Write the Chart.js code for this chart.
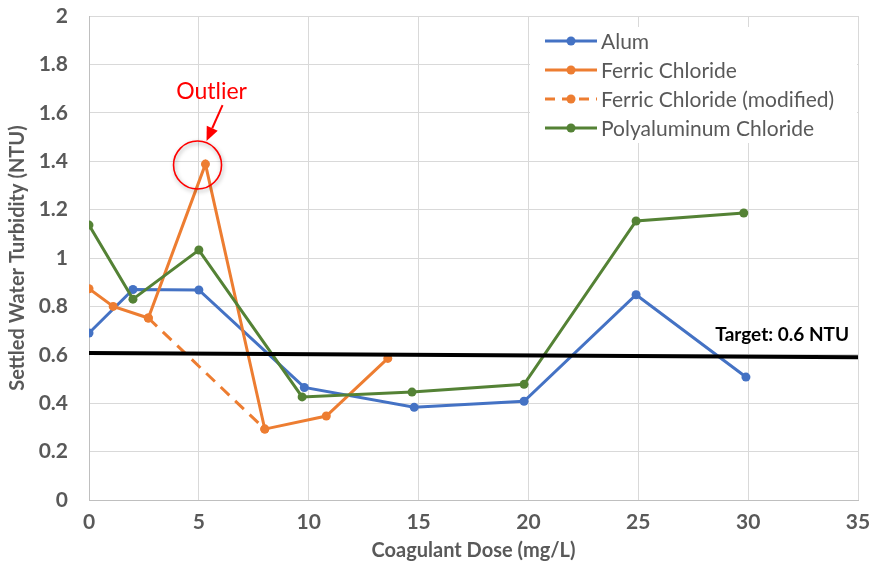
<!DOCTYPE html>
<html>
<head>
<meta charset="utf-8">
<script src="https://cdn.jsdelivr.net/npm/chart.js@4.4.1/dist/chart.umd.min.js"></script>
<style>
html,body{margin:0;padding:0;background:#fff;}
#wrap{width:871px;height:563px;position:relative;}
</style>
</head>
<body>
<div id="wrap"><canvas id="c" width="871" height="563"></canvas></div>
<script>
// ---- data ----
const alumDose = [0, 2, 5, 9.8, 14.8, 19.8, 24.9, 29.9];
const alumNTU  = [0.69, 0.87, 0.868, 0.465, 0.383, 0.408, 0.848, 0.508];
const ferricDose = [0, 1.1, 2.7, 5.3, 8.0, 10.8, 13.6];
const ferricNTU  = [0.873, 0.80, 0.752, 1.388, 0.293, 0.347, 0.585];
const ferricModDose = [2.7, 8.0];
const ferricModNTU  = [0.752, 0.293];
const paclDose = [0, 2, 5, 9.7, 14.7, 19.8, 24.9, 29.8];
const paclNTU  = [1.136, 0.83, 1.033, 0.426, 0.446, 0.478, 1.153, 1.186];
const targetDose = [0, 35];
const targetNTU  = [0.607, 0.59];
const seriesLabels = ['Alum', 'Ferric Chloride', 'Ferric Chloride (modified)', 'Polyaluminum Chloride'];
const xTickLabels = ['0','5','10','15','20','25','30','35'];
const yTickLabels = ['0','0.2','0.4','0.6','0.8','1','1.2','1.4','1.6','1.8','2'];
const targetText = 'Target: 0.6 NTU';
const outlierText = 'Outlier';
const outlierAt = {x: 4.94, y: 1.384};     // circle centre (data units)
const targetLabelAt = {x: 31.55, y: 0.682}; // label centre (data units)

const pts = (xs, ys) => xs.map((x, i) => ({x, y: ys[i]}));
const BLUE = '#4472C4', ORANGE = '#ED7D31', GREEN = '#548235';
const FONT = 'Lato, "Open Sans", sans-serif';

const annot = {
  id: 'annot',
  afterDatasetsDraw(chart) {
    const ctx = chart.ctx, xs = chart.scales.x, ys = chart.scales.y;
    ctx.save();
    // legend box
    ctx.fillStyle = '#fff';
    ctx.fillRect(530, 27, 327, 116);
    const entries = [
      {label: seriesLabels[0], color: BLUE, dash: []},
      {label: seriesLabels[1], color: ORANGE, dash: []},
      {label: seriesLabels[2], color: ORANGE, dash: [10, 7]},
      {label: seriesLabels[3], color: GREEN, dash: []},
    ];
    ctx.font = '21px ' + FONT;
    ctx.textBaseline = 'middle';
    ctx.textAlign = 'left';
    entries.forEach((e, i) => {
      const y = 41 + i * 29;
      ctx.strokeStyle = e.color; ctx.lineWidth = 3; ctx.setLineDash(e.dash);
      ctx.beginPath(); ctx.moveTo(545, y); ctx.lineTo(597, y); ctx.stroke();
      ctx.setLineDash([]);
      ctx.fillStyle = e.color;
      ctx.beginPath(); ctx.arc(571, y, 4.5, 0, Math.PI * 2); ctx.fill();
      ctx.fillStyle = '#595959';
      ctx.fillText(e.label, 601, y + 1);
    });
    // target label
    ctx.font = 'bold 19px ' + FONT;
    ctx.fillStyle = '#000';
    ctx.textAlign = 'center';
    ctx.fillText(targetText, xs.getPixelForValue(targetLabelAt.x), ys.getPixelForValue(targetLabelAt.y));
    // outlier circle
    const cx = xs.getPixelForValue(outlierAt.x), cy = ys.getPixelForValue(outlierAt.y);
    ctx.save();
    ctx.shadowColor = 'rgba(0,0,0,0.35)'; ctx.shadowBlur = 4; ctx.shadowOffsetX = 1; ctx.shadowOffsetY = 2;
    ctx.strokeStyle = '#FF0000'; ctx.lineWidth = 1.6;
    ctx.beginPath(); ctx.arc(cx, cy, 24, 0, Math.PI * 2); ctx.stroke();
    ctx.restore();
    // arrow
    const tipX = cx + 9, tipY = cy - 24, tailX = cx + 25, tailY = cy - 60;
    const ang = Math.atan2(tipY - tailY, tipX - tailX);
    const hl = 14, hw = 6;
    const bx = tipX - hl * Math.cos(ang), by = tipY - hl * Math.sin(ang);
    ctx.strokeStyle = '#FF0000'; ctx.fillStyle = '#FF0000'; ctx.lineWidth = 2;
    ctx.beginPath(); ctx.moveTo(tailX, tailY); ctx.lineTo(bx, by); ctx.stroke();
    ctx.beginPath();
    ctx.moveTo(tipX, tipY);
    ctx.lineTo(bx + hw * Math.sin(ang), by - hw * Math.cos(ang));
    ctx.lineTo(bx - hw * Math.sin(ang), by + hw * Math.cos(ang));
    ctx.closePath(); ctx.fill();
    // outlier text
    ctx.font = '23px ' + FONT;
    ctx.textAlign = 'center';
    ctx.fillText(outlierText, cx + 14, cy - 73);
    ctx.restore();
  }
};

const lineDs = (label, data, color, order, extra) => Object.assign({
  label, data, borderColor: color, backgroundColor: color, borderWidth: 3,
  pointRadius: 4.5, pointHoverRadius: 4.5, pointBackgroundColor: color, pointBorderWidth: 0,
  tension: 0, order
}, extra || {});

new Chart(document.getElementById('c'), {
  type: 'line',
  data: {
    datasets: [
      lineDs(seriesLabels[0], pts(alumDose, alumNTU), BLUE, 4),
      lineDs(seriesLabels[1], pts(ferricDose, ferricNTU), ORANGE, 3),
      lineDs(seriesLabels[2], pts(ferricModDose, ferricModNTU), ORANGE, 2, {borderDash: [12, 8]}),
      lineDs(seriesLabels[3], pts(paclDose, paclNTU), GREEN, 1),
      lineDs('Target', pts(targetDose, targetNTU), '#000', 0, {borderWidth: 4, pointRadius: 0})
    ]
  },
  options: {
    responsive: false,
    animation: false,
    events: [],
    layout: {padding: {top: 16, right: 13, left: 0, bottom: 0}},
    plugins: {legend: {display: false}, tooltip: {enabled: false}},
    scales: {
      x: {
        type: 'linear', min: 0, max: 35,
        ticks: {stepSize: 5, padding: 10, color: '#595959', font: {family: FONT, size: 21, weight: 'bold'},
          callback: (v, i) => xTickLabels[i]},
        grid: {color: '#d9d9d9', lineWidth: 1, drawTicks: false},
        border: {color: '#bfbfbf', width: 1},
        title: {display: true, text: 'Coagulant Dose (mg/L)', color: '#595959',
          font: {family: FONT, size: 20, weight: 'bold'}, padding: {top: 3, bottom: 0}},
        afterFit(s) { s.height = 63; s.paddingLeft = 0; s.paddingRight = 0; }
      },
      y: {
        min: 0, max: 2,
        ticks: {stepSize: 0.2, padding: 21, color: '#595959', font: {family: FONT, size: 21, weight: 'bold'},
          callback: (v, i) => yTickLabels[i]},
        grid: {color: '#d9d9d9', lineWidth: 1, drawTicks: false},
        border: {color: '#bfbfbf', width: 1},
        title: {display: true, text: 'Settled Water Turbidity (NTU)', color: '#595959',
          font: {family: FONT, size: 20, weight: 'bold'}, padding: {top: 6, bottom: 0}},
        afterFit(s) { s.width = 89; s.paddingTop = 0; s.paddingBottom = 0; }
      }
    }
  },
  plugins: [annot]
});
</script>
</body>
</html>
